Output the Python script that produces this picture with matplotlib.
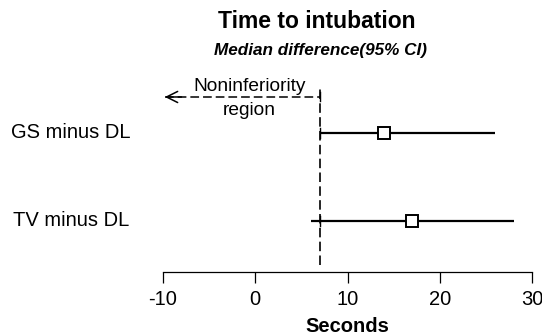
import matplotlib
matplotlib.use('Agg')
import matplotlib.pyplot as plt

# Data
comparisons = ['GS minus DL', 'TV minus DL']
medians = [14, 17]
ci_low = [7, 6]
ci_high = [26, 28]
margin = 7
xticks = [-10, 0, 10, 20, 30]

plt.rcParams['font.family'] = ['Liberation Sans', 'DejaVu Sans']

W, H = 542, 336
fig = plt.figure(figsize=(W / 100, H / 100), dpi=100)

# axes placed in pixel terms: x from 163 to 532, y from 80 to 272 (top-down)
ax = fig.add_axes([163 / W, 1 - 272 / H, (532 - 163) / W, (272 - 80) / H])
ax.set_xlim(-10, 30)
ax.set_ylim(0.42, 2.602)

dash = (0, (5.7, 2.6))
rows = [2, 1]
for y, lo, hi, m in zip(rows, ci_low, ci_high, medians):
    ax.plot([lo, hi], [y, y], color='black', lw=1.6, solid_capstyle='butt')
    ax.plot([margin, margin], [y - 0.06, y + 0.06], color='black', lw=1.0)
    ax.plot(m, y, marker='s', ms=8.5, mfc='white', mec='black', mew=1.4)

# noninferiority margin
ax.plot([margin, margin], [0.5, 2.52], color='black', lw=1.2, ls=dash,
        clip_on=False)
ax.plot([-9.8, margin], [2.409, 2.409], color='black', lw=1.1, ls=dash)
ax.plot([margin, margin], [2.36, 2.46], color='black', lw=1.0)
ax.annotate('', xy=(-9.8, 2.409), xytext=(-8.0, 2.409),
            arrowprops=dict(arrowstyle='->', color='black', lw=1.1,
                            mutation_scale=20, shrinkA=0, shrinkB=0))
ax.text(-0.6, 2.523, 'Noninferiority', ha='center', va='center', fontsize=13.8)
ax.text(-0.6, 2.261, 'region', ha='center', va='center', fontsize=13.8)

for y, lab in zip(rows, comparisons):
    fig.text(71 / W, ax.transData.transform((0, y))[1] / H, lab,
             ha='center', va='center', fontsize=14.5)

for s in ['top', 'left', 'right']:
    ax.spines[s].set_visible(False)
ax.spines['bottom'].set_linewidth(0.9)
ax.set_yticks([])
ax.set_xticks(xticks)
ax.set_xticklabels([str(t) for t in xticks], fontsize=14.5)
ax.tick_params(axis='x', length=8, width=0.9, pad=5)
ax.set_xlabel('Seconds', fontsize=14.5, fontweight='bold', labelpad=6)

fig.text(317 / W, 1 - 22 / H, 'Time to intubation', ha='center', va='center',
         fontsize=16.5, fontweight='bold')
fig.text(320 / W, 1 - 50 / H, 'Median difference(95% CI)', ha='center', va='center',
         fontsize=12.3, fontweight='bold', style='italic')

fig.savefig('out.png', dpi=100)
